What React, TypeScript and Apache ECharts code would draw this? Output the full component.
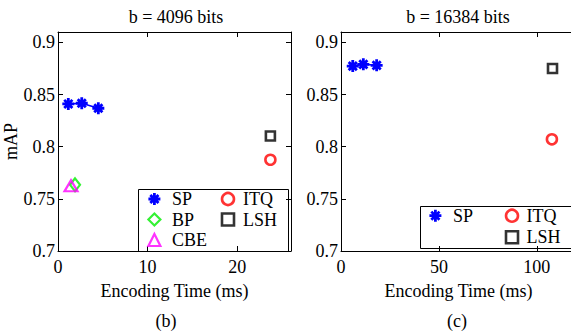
import React, { useEffect, useRef } from "react";
import * as echarts from "echarts";

// ---- data ----
const spTimeB = [1.15, 2.65, 4.5];
const spMapB = [0.841, 0.8417, 0.8369];
const bpB = [1.9, 0.7635];
const cbeB = [1.45, 0.7625];
const itqB = [23.7, 0.7875];
const lshB = [23.7, 0.8103];

const spTimeC = [6.0, 11.4, 18.2];
const spMapC = [0.8773, 0.879, 0.878];
const itqC = [107.7, 0.8071];
const lshC = [108, 0.875];

const titles = ["b = 4096 bits", "b = 16384 bits"];
const captions = ["(b)", "(c)"];
const xName = "Encoding Time (ms)";
const yName = "mAP";

const FONT = "'Liberation Serif', 'Times New Roman', serif";
const FS = 18;
const ASTERISK = "path://M5,0L5,10M0,5L10,5M1.6,1.6L8.4,8.4M1.6,8.4L8.4,1.6";

const fmt = (step: number) => (v: number) =>
  Math.abs(v / step - Math.round(v / step)) < 1e-6 ? String(+v.toFixed(2)) : "";

function xAxis(grid: number, max: number, interval: number, pos: string, labels: boolean) {
  return {
    type: "value",
    gridIndex: grid,
    min: 0,
    max,
    interval,
    position: pos,
    name: labels ? xName : "",
    nameLocation: "middle",
    nameGap: 31,
    nameTextStyle: { fontFamily: FONT, fontSize: FS, color: "#000" },
    axisLine: { show: true, onZero: false, lineStyle: { color: "#000", width: 1 } },
    axisTick: { show: true, inside: true, length: 5, lineStyle: { color: "#000" } },
    splitLine: { show: false },
    axisLabel: labels
      ? { show: true, margin: 7, fontFamily: FONT, fontSize: FS, color: "#000", formatter: fmt(interval) }
      : { show: false },
  };
}

function yAxis(grid: number, pos: string, labels: boolean, showName: boolean) {
  return {
    type: "value",
    gridIndex: grid,
    min: 0.7,
    max: 0.91,
    interval: 0.05,
    position: pos,
    name: showName ? yName : "",
    nameLocation: "middle",
    nameGap: 33,
    nameTextStyle: { fontFamily: FONT, fontSize: FS, color: "#000" },
    axisLine: { show: true, onZero: false, lineStyle: { color: "#000", width: 1 } },
    axisTick: { show: true, inside: true, length: 5, lineStyle: { color: "#000" } },
    splitLine: { show: false },
    axisLabel: labels
      ? { show: true, margin: 3, fontFamily: FONT, fontSize: FS, color: "#000", formatter: fmt(0.05) }
      : { show: false },
  };
}

const spStyle = { color: "#0000ff", borderColor: "#0000ff", borderWidth: 2.8 };
const itqStyle = { color: "rgba(0,0,0,0)", borderColor: "#ff0000", borderWidth: 2.6 };
const lshStyle = { color: "rgba(0,0,0,0)", borderColor: "#000000", borderWidth: 2.6 };
const bpStyle = { color: "rgba(0,0,0,0)", borderColor: "#00ee00", borderWidth: 2.2 };
const cbeStyle = { color: "rgba(0,0,0,0)", borderColor: "#ff00ff", borderWidth: 2.2 };

function spSeries(xi: number, times: number[], maps: number[]) {
  return {
    name: "SP",
    type: "line",
    xAxisIndex: xi,
    yAxisIndex: xi,
    data: times.map((t, i) => [t, maps[i]]),
    symbol: ASTERISK,
    symbolSize: 12,
    showAllSymbol: true,
    lineStyle: { color: "#0000ff", width: 1.5 },
    itemStyle: spStyle,
  };
}

function scatter(name: string, xi: number, pt: number[], symbol: string, size: any, style: any) {
  return {
    name,
    type: "scatter",
    xAxisIndex: xi,
    yAxisIndex: xi,
    data: [pt],
    symbol,
    symbolSize: size,
    itemStyle: style,
  };
}

const legItem = (name: string, pad: number) => {
  const m: any = {
    SP: { icon: ASTERISK, itemStyle: spStyle },
    ITQ: { icon: "circle", itemStyle: itqStyle },
    LSH: { icon: "rect", itemStyle: lshStyle },
    BP: { icon: "diamond", itemStyle: bpStyle },
    CBE: { icon: "triangle", itemStyle: cbeStyle },
  };
  return { name, ...m[name], textStyle: { padding: [0, 0, 0, pad] } };
};

function legend(names: string[], left: number, top: number, pad: number, gap: number) {
  return {
    orient: "vertical",
    left,
    top,
    padding: 0,
    itemGap: gap,
    itemWidth: 12,
    itemHeight: 12,
    selectedMode: false,
    data: names.map((n) => legItem(n, pad)),
    textStyle: { fontFamily: FONT, fontSize: FS, color: "#000", lineHeight: 20 },
  };
}

export default function App() {
  const ref = useRef<HTMLDivElement>(null);
  useEffect(() => {
    if (!ref.current) return;
    const chart = echarts.init(ref.current, undefined, { renderer: "svg" });
    const option: any = {
      animation: false,
      backgroundColor: "#fff",
      grid: [
        { left: 58, top: 32, width: 233, height: 219, containLabel: false },
        { left: 341, top: 32, width: 235, height: 219, containLabel: false },
      ],
      xAxis: [
        xAxis(0, 26, 10, "bottom", true),
        xAxis(0, 26, 10, "top", false),
        xAxis(1, 120, 50, "bottom", true),
        xAxis(1, 120, 50, "top", false),
      ],
      yAxis: [
        yAxis(0, "left", true, true),
        yAxis(0, "right", false, false),
        yAxis(1, "left", true, false),
        yAxis(1, "right", false, false),
      ],
      legend: [
        legend(["SP", "BP", "CBE"], 147, 189, 6.5, 0.5),
        legend(["ITQ", "LSH"], 220.7, 189, 4, 0.5),
        legend(["SP"], 428, 205.7, 6.5, 1.6),
        legend(["ITQ", "LSH"], 504.7, 205.7, 3.5, 1.6),
      ],
      series: [
        spSeries(0, spTimeB, spMapB),
        scatter("BP", 0, bpB, "diamond", [10, 13], bpStyle),
        scatter("CBE", 0, cbeB, "triangle", [13, 11], cbeStyle),
        scatter("ITQ", 0, itqB, "circle", 10, itqStyle),
        scatter("LSH", 0, lshB, "rect", 9, lshStyle),
        spSeries(2, spTimeC, spMapC),
        scatter("ITQ", 2, itqC, "circle", 10, itqStyle),
        scatter("LSH", 2, lshC, "rect", 9, lshStyle),
      ],
      graphic: [
        { type: "rect", shape: { x: 138.5, y: 189.5, width: 150, height: 62 }, style: { fill: "#fff", stroke: "#000", lineWidth: 1 }, z: 0, silent: true },
        { type: "rect", shape: { x: 420.5, y: 206.5, width: 170, height: 42 }, style: { fill: "#fff", stroke: "#000", lineWidth: 1 }, z: 0, silent: true },
        { type: "text", x: 176, y: 17, style: { text: titles[0], align: "center", verticalAlign: "middle", font: `${FS}px ${FONT}`, fill: "#000" } },
        { type: "text", x: 458, y: 17, style: { text: titles[1], align: "center", verticalAlign: "middle", font: `${FS}px ${FONT}`, fill: "#000" } },
        { type: "text", x: 166, y: 321, style: { text: captions[0], align: "center", verticalAlign: "middle", font: `${FS}px ${FONT}`, fill: "#000" } },
        { type: "text", x: 457, y: 321, style: { text: captions[1], align: "center", verticalAlign: "middle", font: `${FS}px ${FONT}`, fill: "#000" } },
      ],
    };
    chart.setOption(option);
    return () => chart.dispose();
  }, []);
  return (
    <div style={{ position: "fixed", left: 0, top: 0, width: 571, height: 331, overflow: "hidden", background: "#fff" }}>
      <div ref={ref} style={{ width: 580, height: 331 }} />
    </div>
  );
}
